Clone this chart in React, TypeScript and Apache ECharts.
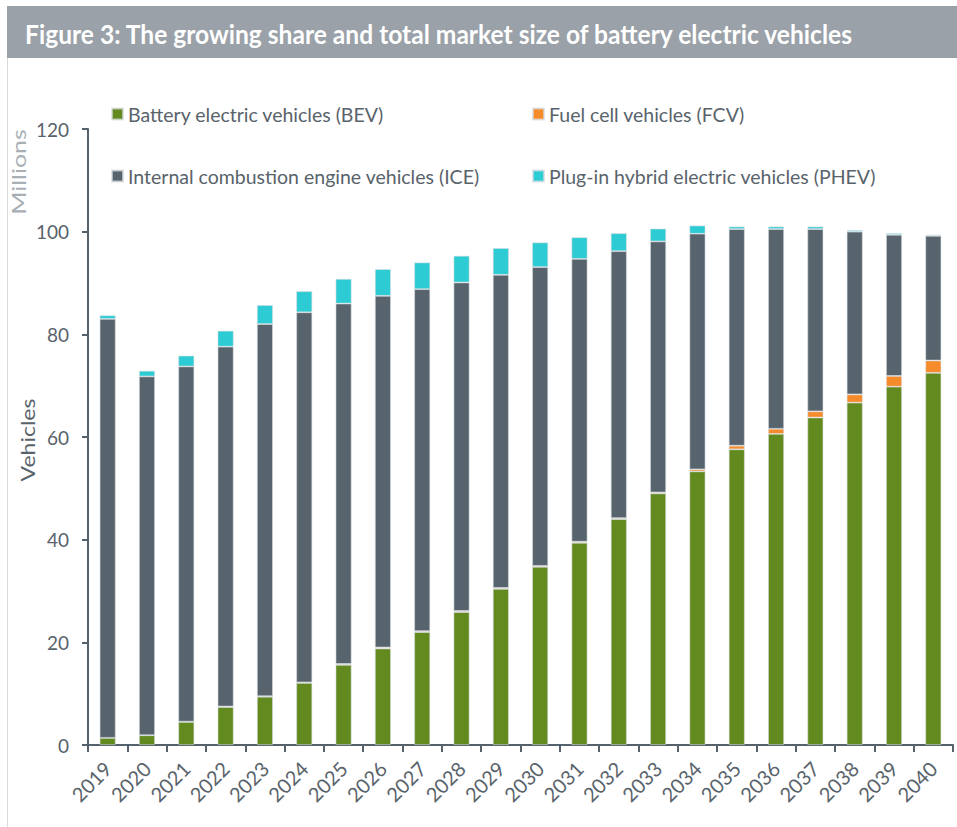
import React, { useEffect, useRef } from "react";
import * as echarts from "echarts";

const years = ["2019","2020","2021","2022","2023","2024","2025","2026","2027","2028","2029","2030","2031","2032","2033","2034","2035","2036","2037","2038","2039","2040"];
const bev = [1.4, 1.9, 4.5, 7.4, 9.4, 12.1, 15.6, 18.8, 22.0, 25.9, 30.4, 34.7, 39.4, 44.0, 49.0, 53.3, 57.6, 60.6, 63.8, 66.7, 69.8, 72.5];
const fcv = [0, 0, 0.05, 0.1, 0.1, 0.1, 0.2, 0.2, 0.2, 0.2, 0.2, 0.2, 0.2, 0.2, 0.2, 0.4, 0.7, 1.0, 1.2, 1.6, 2.1, 2.4];
const ice = [81.6, 69.9, 69.2, 70.1, 72.5, 72.1, 70.2, 68.5, 66.6, 64.0, 61.0, 58.2, 55.1, 52.0, 48.9, 45.9, 42.2, 38.9, 35.5, 31.7, 27.5, 24.3];
const phev = [0.7, 1.1, 2.1, 3.1, 3.7, 4.1, 4.8, 5.2, 5.2, 5.2, 5.2, 4.8, 4.2, 3.5, 2.5, 1.6, 0.5, 0.5, 0.5, 0.3, 0.3, 0.2];
const yTicks = { min: 0, max: 120, interval: 20 };

const names = {
  bev: "Battery electric vehicles (BEV)",
  fcv: "Fuel cell vehicles (FCV)",
  ice: "Internal combustion engine vehicles (ICE)",
  phev: "Plug-in hybrid electric vehicles (PHEV)",
};
const colors = { bev: "#628a1f", fcv: "#f68b2b", ice: "#58646d", phev: "#2dcbd3" };
const textColor = "#59636b";
const axisColor = "#56626b";
const font = "Lato";

export default function App() {
  const ref = useRef<HTMLDivElement>(null);
  useEffect(() => {
    if (!ref.current) return;
    const chart = echarts.init(ref.current, undefined, { renderer: "svg" });
    const mkSeries = (key: keyof typeof names, data: number[]) => ({
      name: names[key],
      type: "bar",
      stack: "total",
      data,
      barWidth: 16,
      itemStyle: { color: colors[key], borderColor: "rgba(215,220,224,0.7)", borderWidth: 0.8 },
    });
    const legendCommon = {
      orient: "vertical",
      top: 98,
      itemWidth: 11,
      itemHeight: 11,
      itemGap: 40,
      icon: "rect",
      textStyle: { fontFamily: font, fontSize: 19.5, color: textColor, lineHeight: 22 },
    };
    chart.setOption({
      animation: false,
      backgroundColor: "#ffffff",
      textStyle: { fontFamily: font },
      grid: { left: 88, right: 4, top: 129, bottom: 82, containLabel: false },
      legend: [
        { ...legendCommon, left: 106, data: [names.bev, names.ice] },
        { ...legendCommon, left: 527, data: [names.fcv, names.phev] },
      ],
      xAxis: {
        type: "category",
        data: years,
        boundaryGap: true,
        axisLine: { lineStyle: { color: axisColor, width: 2 } },
        axisTick: { show: true, length: 7, lineStyle: { color: axisColor, width: 2 } },
        axisLabel: { rotate: 45, fontSize: 20, color: textColor, fontFamily: font, margin: 20 },
      },
      yAxis: {
        type: "value",
        min: yTicks.min,
        max: yTicks.max,
        interval: yTicks.interval,
        splitLine: { show: false },
        axisLine: { show: true, lineStyle: { color: axisColor, width: 2 } },
        axisTick: { show: true, length: 6, lineStyle: { color: axisColor, width: 2 } },
        axisLabel: { fontSize: 19, color: textColor, fontFamily: font, margin: 19 },
      },
      series: [
        mkSeries("bev", bev),
        mkSeries("fcv", fcv),
        mkSeries("ice", ice),
        mkSeries("phev", phev),
      ],
      graphic: [
        { type: "rect", shape: { x: 7, y: 6, width: 950, height: 52 }, style: { fill: "#9aa1a8" }, silent: true },
        { type: "line", shape: { x1: 7.5, y1: 58, x2: 7.5, y2: 827 }, style: { stroke: "#d9dde0", lineWidth: 1 }, silent: true },
        {
          type: "text", x: 25, y: 33, scaleY: 1.12,
          style: { text: "Figure 3: The growing share and total market size of battery electric vehicles", fill: "#ffffff", font: `bold 24.6px ${font}`, verticalAlign: "middle", align: "left" },
        },
        {
          type: "text", x: 18, y: 172, rotation: Math.PI / 2, scaleX: 1.25,
          style: { text: "Millions", fill: "#a8afb5", font: `20px ${font}`, align: "center", verticalAlign: "middle" },
        },
        {
          type: "text", x: 28, y: 440, rotation: Math.PI / 2, scaleX: 1.15,
          style: { text: "Vehicles", fill: textColor, font: `20px ${font}`, align: "center", verticalAlign: "middle" },
        },
      ],
    });
    return () => chart.dispose();
  }, []);
  return <div ref={ref} style={{ position: "fixed", left: 0, top: 0, width: 957, height: 827 }} />;
}
